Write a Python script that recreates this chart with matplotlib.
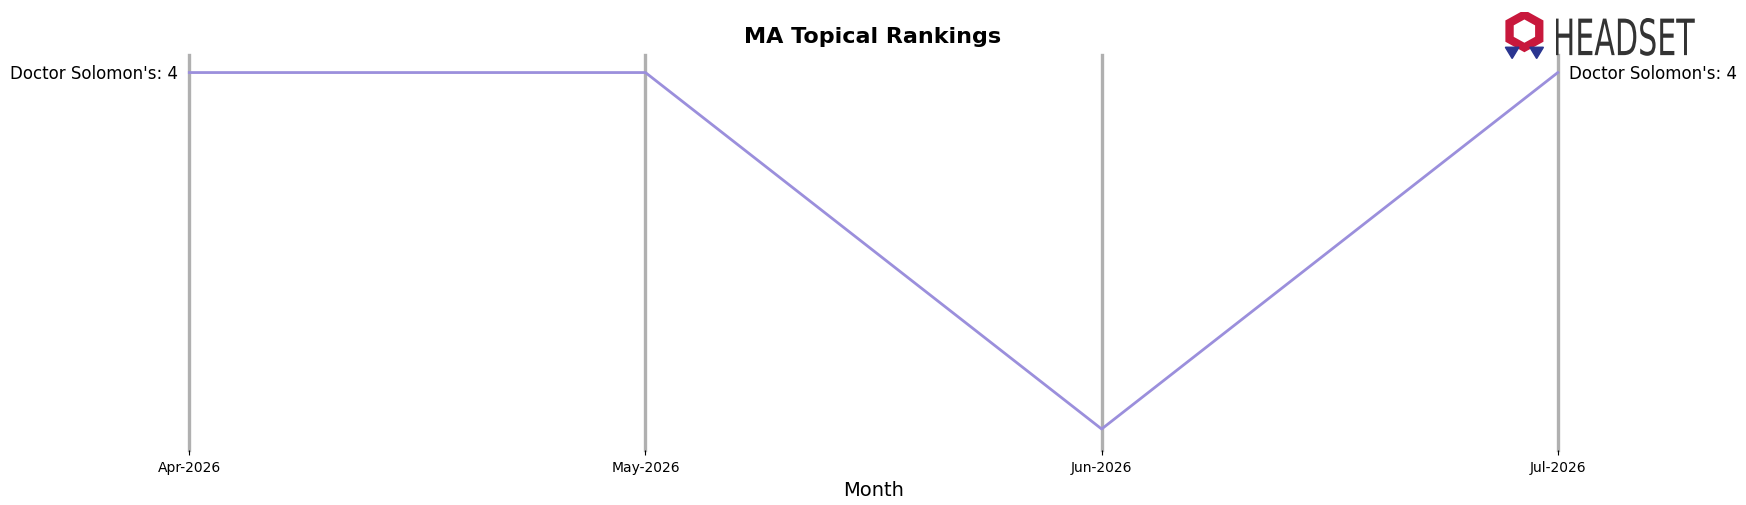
import matplotlib.pyplot as plt
from matplotlib.patches import RegularPolygon, PathPatch
from matplotlib.textpath import TextPath
from matplotlib.font_manager import FontProperties

months = ['Apr-2026', 'May-2026', 'Jun-2026', 'Jul-2026']
brand = "Doctor Solomon's"
ranks = [4, 4, 5, 4]

W, H = 1568, 454  # reference layout measured at this scale

fig = plt.figure(figsize=(17.46, 5.06), dpi=100)
ax = fig.add_axes([170 / W, 1 - 405 / H, (1399 - 170) / W, 355 / H])

x = list(range(len(months)))
for xi in x:
    ax.axvline(xi, color='#b0b0b0', lw=2.4, zorder=1, clip_on=False)
ax.plot(x, ranks, color='#9b8fdc', lw=2, zorder=2, clip_on=False)

ax.set_xlim(0, len(months) - 1)
ax.set_ylim(5.06, 3.95)
ax.set_xticks(x)
ax.set_xticklabels(months, fontsize=10)
ax.set_yticks([])
ax.set_xlabel('Month', fontsize=14)
for s in ax.spines.values():
    s.set_visible(False)

ax.text(-0.025, ranks[0], f"{brand}: {ranks[0]}", ha='right', va='center', fontsize=12)
ax.text(len(months) - 1 + 0.025, ranks[-1], f"{brand}: {ranks[-1]}", ha='left', va='center', fontsize=12)

fig.text(784 / W, 1 - 33 / H, 'MA Topical Rankings', ha='center', va='center',
         fontsize=16, fontweight='bold')

# logo
lax = fig.add_axes([1347 / W, 1 - 54 / H, 44 / W, 42 / H])
lax.set_xlim(-1, 1); lax.set_ylim(-1, 1); lax.axis('off')
lax.add_patch(RegularPolygon((0, 0.2), 6, radius=0.7, fill=False, ec='#c8183c', lw=6))
lax.add_patch(RegularPolygon((-0.5, -0.65), 3, radius=0.32, orientation=3.1416, color='#2a3590'))
lax.add_patch(RegularPolygon((0.5, -0.65), 3, radius=0.32, orientation=3.1416, color='#2a3590'))

# condensed wordmark drawn as a stretched text path
tax = fig.add_axes([1397 / W, 1 - 51 / H, 125 / W, 34 / H])
tax.axis('off')
tp = TextPath((0, 0), 'HEADSET', size=1, prop=FontProperties(family='DejaVu Sans'))
ext = tp.get_extents()
tax.add_patch(PathPatch(tp, color='#333333', lw=0))
tax.set_xlim(ext.x0, ext.x1)
tax.set_ylim(ext.y0, ext.y1)

fig.savefig('out.png', dpi=100)
